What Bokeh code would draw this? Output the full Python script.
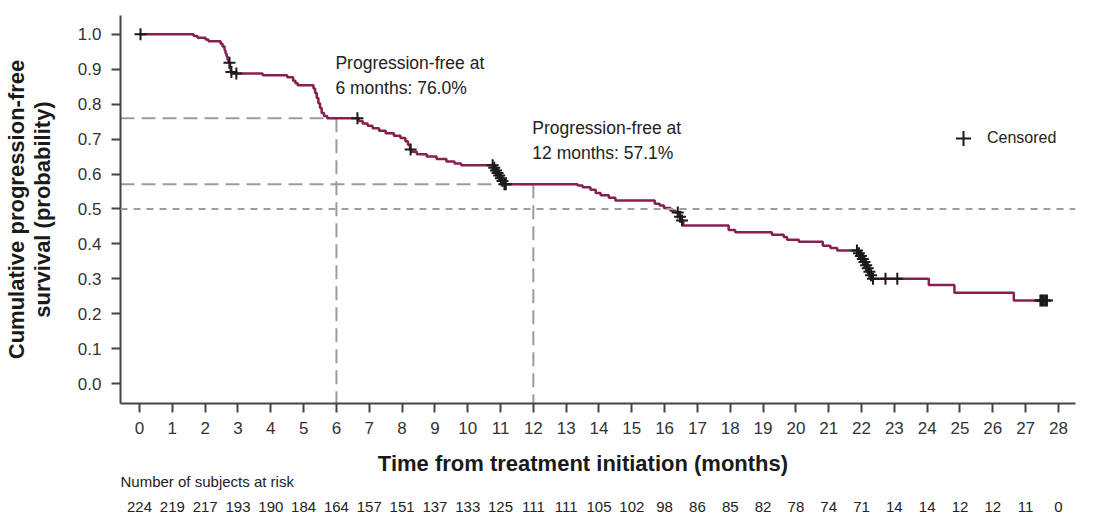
import numpy as np
from bokeh.plotting import figure
from bokeh.layouts import column
from bokeh.models import (ColumnDataSource, FixedTicker, Span, Label, Range1d,
                          Legend, LegendItem, CustomJSTickFormatter)
from bokeh.core.properties import value
from bokeh.embed import file_html
from bokeh.resources import INLINE

# ---- data ----
km_time = [0.0, 1.65, 1.77, 2.01, 2.10, 2.47, 2.53, 2.59, 2.62, 2.65, 2.68, 2.71, 2.76, 2.78, 2.85,
           3.75, 4.50, 4.68, 4.75, 4.82, 5.30, 5.35, 5.40, 5.45, 5.50, 5.55, 5.62, 5.72,
           6.68, 6.80, 6.95, 7.10, 7.30, 7.50, 7.75, 7.95, 8.10, 8.18, 8.24, 8.29, 8.45, 8.75,
           9.05, 9.35, 9.60, 9.80, 10.78, 10.84, 10.89, 10.94, 10.99, 11.04, 11.10,
           13.35, 13.50, 13.74, 13.90, 14.05, 14.30, 14.50, 15.70, 15.85, 15.98, 16.18, 16.33,
           16.45, 16.50, 16.57, 17.95, 18.15, 19.27, 19.63, 19.73, 20.09, 20.82, 21.05, 21.26,
           21.90, 21.96, 22.02, 22.07, 22.12, 22.17, 22.22, 22.27, 22.32,
           24.05, 24.83, 26.64, 27.68]
km_surv = [1.0, 0.995, 0.990, 0.985, 0.980, 0.973, 0.965, 0.955, 0.946, 0.937, 0.928, 0.919, 0.905, 0.892, 0.888,
           0.883, 0.877, 0.867, 0.860, 0.854, 0.845, 0.832, 0.818, 0.803, 0.789, 0.775, 0.766, 0.760,
           0.752, 0.745, 0.738, 0.731, 0.724, 0.717, 0.710, 0.703, 0.694, 0.684, 0.670, 0.664, 0.657, 0.650,
           0.643, 0.636, 0.630, 0.625, 0.618, 0.610, 0.603, 0.596, 0.588, 0.580, 0.571,
           0.567, 0.562, 0.555, 0.546, 0.539, 0.532, 0.524, 0.515, 0.510, 0.503, 0.495, 0.490,
           0.478, 0.467, 0.453, 0.440, 0.433, 0.426, 0.420, 0.412, 0.406, 0.395, 0.388, 0.381,
           0.373, 0.365, 0.357, 0.348, 0.339, 0.330, 0.320, 0.310, 0.300,
           0.282, 0.260, 0.238, 0.238]
cens_time = [0.03, 2.74, 2.80, 2.95, 6.64, 8.26, 10.76, 10.81, 10.86, 10.91, 10.96, 11.01, 11.06,
             11.12, 11.16, 16.40, 16.47, 16.53, 21.86, 21.92, 21.98, 22.04, 22.09, 22.14, 22.19,
             22.24, 22.29, 22.35, 22.73, 23.09, 27.45, 27.50, 27.55, 27.60, 27.65]
month_ticks = list(range(29))
at_risk = [224, 219, 217, 193, 190, 184, 164, 157, 151, 137, 133, 125, 111, 111, 105, 102, 98,
           86, 85, 82, 78, 74, 71, 14, 14, 12, 12, 11, 0]
prob_ticks = [round(0.1 * i, 1) for i in range(11)]
milestone_months = [6, 12]
milestone_surv = [0.760, 0.571]
median_level = 0.5

# ---- derived ----
idx = np.searchsorted(np.array(km_time), np.array(cens_time), side="right") - 1
cens_surv = list(np.array(km_surv)[idx])

X0, X1 = -0.58, 28.52
Y0, Y1 = -0.057, 1.054
FONT = "Liberation Sans"
CURVE = "#86204f"
DASH = "#9c9c9c"
W = 1095
H1, H2 = 445, 86

p = figure(width=W, height=H1, x_range=(X0, X1), y_range=(Y0, Y1),
           output_backend="svg", toolbar_location=None,
           min_border_left=120, min_border_right=20, min_border_top=15, min_border_bottom=42)
p.outline_line_color = None
p.xgrid.visible = False
p.ygrid.visible = False

# reference lines
seg = ColumnDataSource(dict(m=milestone_months, s=milestone_surv,
                            x0=[X0] * len(milestone_months), y0=[Y0] * len(milestone_months)))
p.segment(x0="x0", y0="s", x1="m", y1="s", source=seg, line_color=DASH, line_width=2, line_dash="14 7")
p.segment(x0="m", y0="s", x1="m", y1="y0", source=seg, line_color=DASH, line_width=2, line_dash="14 7")
p.add_layout(Span(location=median_level, dimension="width", line_color=DASH, line_width=2,
                  line_dash="7 6"))

# KM curve
p.step(km_time, km_surv, mode="after", line_color=CURVE, line_width=2.5)
cr = p.scatter(cens_time, cens_surv, marker="cross", size=12, line_color="#1a1a1a", line_width=2)

# axes
xa = p.xaxis[0]
xa.ticker = FixedTicker(ticks=month_ticks)
ya = p.yaxis[0]
ya.ticker = FixedTicker(ticks=prob_ticks)
ya.formatter = CustomJSTickFormatter(code="return tick.toFixed(1);")
ya.axis_label = "Cumulative progression-free\nsurvival (probability)"
for ax in (xa, ya):
    ax.axis_line_color = "#444444"
    ax.axis_line_width = 2
    ax.major_tick_line_color = "#444444"
    ax.major_tick_line_width = 2
    ax.major_tick_in = 0
    ax.major_tick_out = 9
    ax.minor_tick_line_color = None
    ax.major_label_text_font = FONT
    ax.major_label_text_font_size = "17px"
    ax.major_label_text_color = "#333333"
    ax.axis_label_text_font = FONT
    ax.axis_label_text_font_style = "bold"
    ax.axis_label_text_color = "#1a1a1a"
xa.major_label_standoff = 9
ya.major_label_standoff = 10
ya.axis_label_standoff = 20
ya.axis_label_text_font_size = "22px"
ya.axis_label_text_line_height = 1.05

# milestone annotations
for m, s, yl in zip(milestone_months, milestone_surv, [(0.917, 0.845), (0.731, 0.659)]):
    for txt, yy in zip(["Progression-free at", f"{m} months: {s * 100:.1f}%"], yl):
        p.add_layout(Label(x=m, y=yy, x_offset=-1, text=txt, text_font=FONT, text_font_size="17.5px",
                           text_color="#222222", text_baseline="middle", text_align="left"))

# legend
leg = Legend(items=[LegendItem(label="Censored", renderers=[cr])], location=(824, 246),
             border_line_color=None, background_fill_alpha=0, padding=0, margin=0,
             glyph_width=38, glyph_height=38, label_standoff=5,
             label_text_font=FONT, label_text_font_size="16px", label_text_color="#222222")
p.add_layout(leg)

# ---- lower panel: axis title and number at risk (y in page pixels) ----
q = figure(width=W, height=H2, x_range=p.x_range, y_range=Range1d(H1 + H2, H1),
           output_backend="svg", toolbar_location=None, x_axis_type=None, y_axis_type=None,
           min_border_left=120, min_border_right=20, min_border_top=0, min_border_bottom=0)
q.outline_line_color = None
q.xgrid.visible = False
q.ygrid.visible = False
mid = (month_ticks[0] + month_ticks[-1]) / 2
q.text(x=[mid], y=[463], text=["Time from treatment initiation (months)"], x_offset=-16,
       text_font=value(FONT), text_font_size="22px", text_font_style="bold", text_color="#1a1a1a",
       text_align="center", text_baseline="middle")
q.text(x=[X0], y=[481], text=["Number of subjects at risk"],
       text_font=value(FONT), text_font_size="15px", text_color="#222222",
       text_align="left", text_baseline="middle")
q.text(x=month_ticks, y=[506] * len(month_ticks), text=[str(n) for n in at_risk],
       text_font=value(FONT), text_font_size="15px", text_color="#222222",
       text_align="center", text_baseline="middle")

layout = column(p, q, spacing=0)
open("out.html", "w").write(file_html(layout, INLINE))
